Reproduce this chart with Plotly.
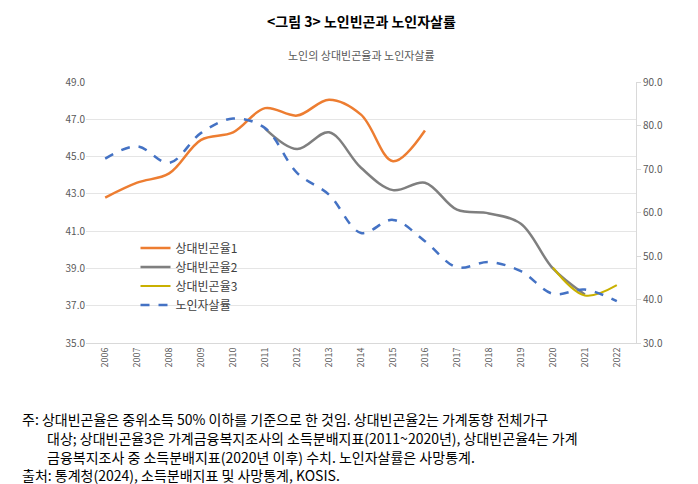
import plotly.graph_objects as go

years = [str(y) for y in range(2006, 2023)]
rate1 = [42.8, 43.6, 44.1, 45.9, 46.3, 47.6, 47.2, 48.05, 47.25, 44.75, 46.4] + [None]*6
rate2 = [None]*5 + [46.5, 45.4, 46.3, 44.4, 43.2, 43.6, 42.15, 41.95, 41.4, 39.0, 37.6, None]
rate3 = [None]*14 + [39.05, 37.55, 38.1]
suicide = [72.4, 75.2, 71.4, 78.3, 81.6, 79.4, 69.1, 64.1, 55.3, 58.3, 53.4, 47.4, 48.6, 46.5, 41.3, 42.3, 39.6]
left_ticks = [35, 37, 39, 41, 43, 45, 47, 49]
right_ticks = [30, 40, 50, 60, 70, 80, 90]

F = "Noto Sans CJK KR"
T, B, L, R = 74, 149, 78, 70
fig = go.Figure()
fig.add_trace(go.Scatter(x=years, y=rate1, name="상대빈곤율1", mode="lines", line=dict(color="#ED7D31", width=2.5, shape="spline")))
fig.add_trace(go.Scatter(x=years, y=rate2, name="상대빈곤율2", mode="lines", line=dict(color="#7F7F7F", width=2.5, shape="spline")))
fig.add_trace(go.Scatter(x=years, y=rate3, name="상대빈곤율3", mode="lines", line=dict(color="#C9B000", width=2, shape="spline")))
fig.add_trace(go.Scatter(x=years, y=suicide, name="노인자살률", mode="lines", yaxis="y2", line=dict(color="#4472C4", width=2.5, dash="dash", shape="spline")))

fig.update_layout(
    width=698, height=484, paper_bgcolor="white", plot_bgcolor="white",
    margin=dict(l=L, r=R, t=T, b=B, autoexpand=False),
    font=dict(family=F, size=10, color="#595959"),
    xaxis=dict(type="category", range=[-0.6, 16.6], tickangle=-90, showgrid=False, showline=True, linecolor="#D9D9D9", ticks="", tickfont=dict(size=9)),
    yaxis=dict(range=[35, 49], tickvals=left_ticks, tickformat=".1f", gridcolor="#E5E5E5", showline=False, zeroline=False),
    yaxis2=dict(range=[30, 90], tickvals=right_ticks, tickformat=".1f", overlaying="y", side="right", showgrid=False, showline=True, linecolor="#D9D9D9", ticks="outside", tickcolor="#D9D9D9", ticklen=4),
    legend=dict(x=0.09, y=0.42, xanchor="left", yanchor="top", bgcolor="rgba(0,0,0,0)", font=dict(size=12, color="#404040"), tracegroupgap=6),
    showlegend=True,
)
def top(ypx):
    return (484 - B - ypx) / (484 - T - B)
def left(xpx):
    return (xpx - L) / (698 - L - R)
fig.add_annotation(text="<b>&lt;그림 3&gt; 노인빈곤과 노인자살률</b>", xref="paper", yref="paper", x=0.5, y=top(13), xanchor="center", yanchor="middle", showarrow=False, font=dict(size=14, color="black"))
fig.add_annotation(text="노인의 상대빈곤율과 노인자살률", xref="paper", yref="paper", x=0.5, y=top(47), xanchor="center", yanchor="middle", showarrow=False, font=dict(size=11, color="#595959"))
notes = [
    (12, 411, "주: 상대빈곤율은 중위소득 50% 이하를 기준으로 한 것임. 상대빈곤율2는 가계동향 전체가구"),
    (37, 430, "대상; 상대빈곤율3은 가계금융복지조사의 소득분배지표(2011~2020년), 상대빈곤율4는 가계"),
    (37, 449, "금융복지조사 중 소득분배지표(2020년 이후) 수치. 노인자살률은 사망통계."),
    (12, 467, "출처: 통계청(2024), 소득분배지표 및 사망통계, KOSIS."),
]
for xp, yp, t in notes:
    fig.add_annotation(text=t, xref="paper", yref="paper", x=left(xp), y=top(yp), xanchor="left", yanchor="middle", showarrow=False, font=dict(size=14, color="black"))
fig.write_html("out.html")
